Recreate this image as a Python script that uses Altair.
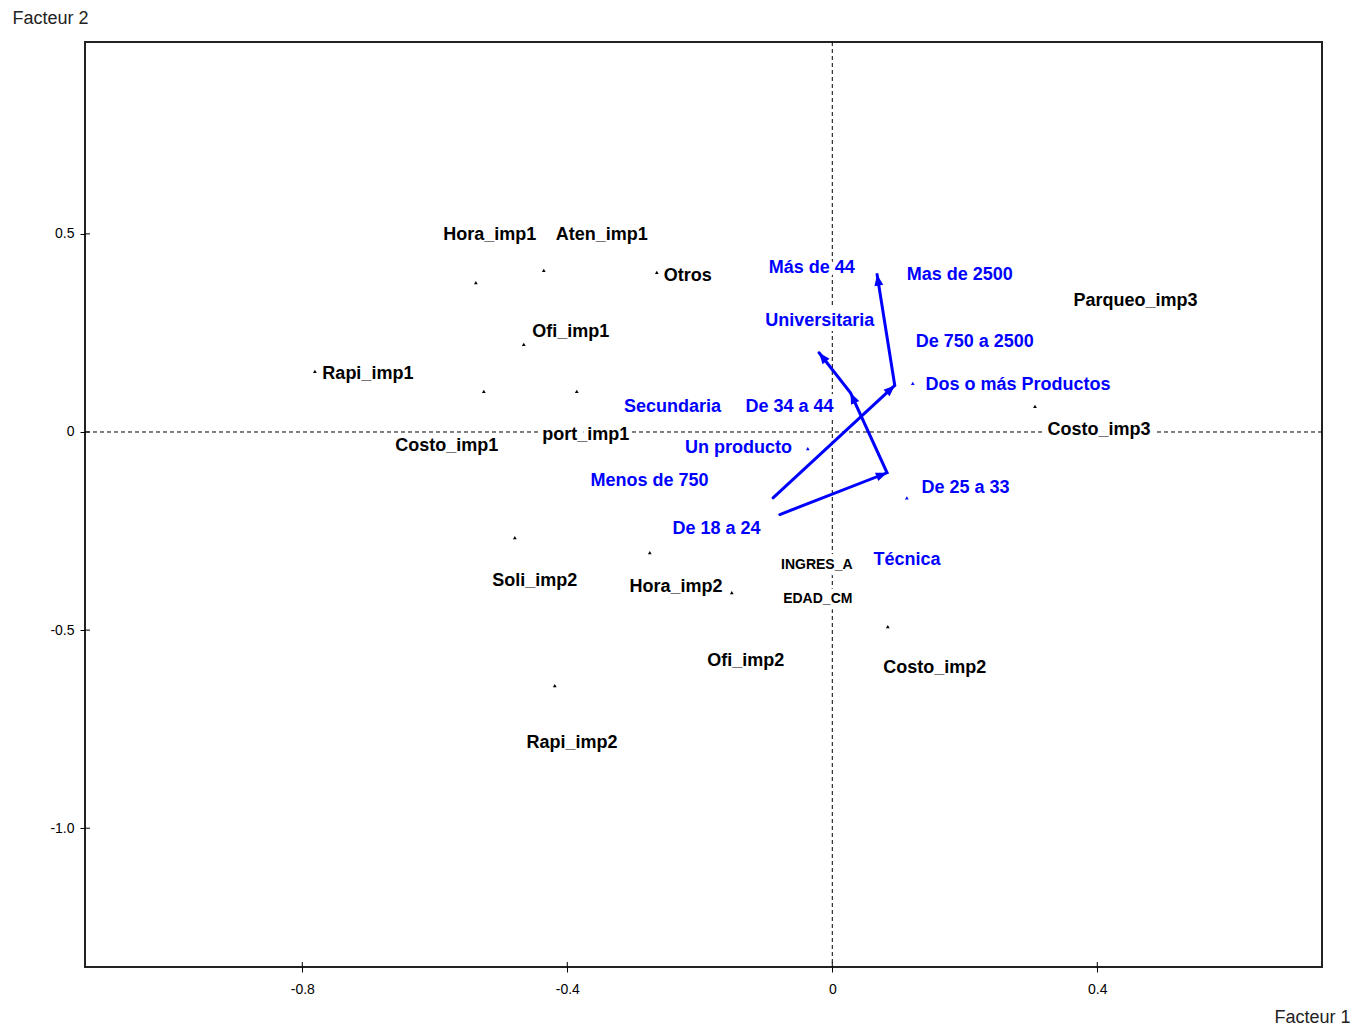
import math
import altair as alt
import pandas as pd

# ---------------- data ----------------
# small triangular markers (black = modalities of the active variables)
black_pt_x = [-0.538, -0.4355, -0.2649, -0.4657, -0.781, -0.526, -0.3857, 0.306, -0.4792, -0.2755, -0.1517, 0.0838, -0.4189]
black_pt_y = [0.377, 0.408, 0.403, 0.221, 0.1528, 0.1023, 0.1023, 0.0644, -0.2664, -0.3043, -0.4053, -0.4912, -0.6402]

# blue markers (supplementary modalities)
blue_pt_x = [0.1215, -0.037, 0.1125]
blue_pt_y = [0.1225, -0.042, -0.166]

# black labels
black_names = ["Hora_imp1", "Aten_imp1", "Otros", "Ofi_imp1", "Rapi_imp1", "Costo_imp1",
               "port_imp1", "Parqueo_imp3", "Costo_imp3", "Soli_imp2", "Hora_imp2",
               "Ofi_imp2", "Costo_imp2", "Rapi_imp2"]
black_lab_x = [-0.517, -0.348, -0.218, -0.3947, -0.701, -0.582, -0.372, 0.4578, 0.4025,
               -0.449, -0.236, -0.1306, 0.1547, -0.393]
black_lab_y = [0.4975, 0.4975, 0.394, 0.2513, 0.1452, -0.0366, -0.0068, 0.3296, 0.006,
               -0.3755, -0.3907, -0.5775, -0.5952, -0.7846]

# trajectory variable names (small labels)
traj_names = ["INGRES_A", "EDAD_CM"]
traj_lab_x = [-0.0234, -0.0219]
traj_lab_y = [-0.3346, -0.4205]

# blue labels
blue_names = ["Más de 44", "Mas de 2500", "Universitaria", "De 750 a 2500", "Dos o más Productos",
              "Secundaria", "De 34 a 44", "Un producto", "Menos de 750", "De 25 a 33",
              "De 18 a 24", "Técnica"]
blue_lab_x = [-0.0309, 0.1925, -0.0189, 0.2151, 0.2803, -0.2412, -0.0646, -0.1416, -0.2759,
              0.2012, -0.1748, 0.1127]
blue_lab_y = [0.4129, 0.3952, 0.279, 0.226, 0.1174, 0.0639, 0.0639, -0.0396, -0.123,
              -0.1407, -0.2442, -0.3225]

# trajectories of the ordinal variables
ingres_steps = ["Menos de 750", "De 750 a 2500", "Mas de 2500"]
ingres_x = [-0.0894, 0.0943, 0.0676]
ingres_y = [-0.1662, 0.1174, 0.3977]
edad_steps = ["De 18 a 24", "De 25 a 33", "De 34 a 44", "Más de 44"]
edad_x = [-0.0792, 0.0827, 0.0275, -0.0199]
edad_y = [-0.2083, -0.103, 0.099, 0.2]

x_ticks = [-0.8, -0.4, 0.0, 0.4]
y_ticks = [-1.0, -0.5, 0.0, 0.5]

# ---------------- layout / style ----------------
W, H = 1237, 925
X_DOM = [-1.128, 0.7392]
Y_DOM = [-1.3503, 0.9843]
FONT = "Liberation Sans"
BLUE = "#0000FF"
SX = W / (X_DOM[1] - X_DOM[0])
SY = H / (Y_DOM[1] - Y_DOM[0])

xs = alt.Scale(domain=X_DOM, nice=False, zero=False)
ys = alt.Scale(domain=Y_DOM, nice=False, zero=False)
lab_expr = "datum.value == 0 ? '0' : replace(format(datum.value, '.1f'), '\u2212', '-')"
xaxis = alt.Axis(values=x_ticks, labelExpr=lab_expr, tickSize=5, tickColor="black", tickWidth=1,
                 domain=False, grid=False, labelFont=FONT, labelFontSize=14, labelColor="black",
                 labelPadding=10, labelBaseline="top",
                 title="Facteur 1", titleFont=FONT, titleFontSize=18, titleFontWeight="normal",
                 titleColor="#222", titleAlign="right", titleBaseline="middle",
                 titleX=1265, titleY=50, titleAnchor="end")
yaxis = alt.Axis(values=y_ticks, labelExpr=lab_expr, tickSize=5, tickColor="black", tickWidth=1,
                 domain=False, grid=False, labelFont=FONT, labelFontSize=14, labelColor="black",
                 labelPadding=6,
                 title="Facteur 2", titleFont=FONT, titleFontSize=18, titleFontWeight="normal",
                 titleColor="#222", titleAngle=0, titleAlign="left", titleBaseline="middle",
                 titleX=-73, titleY=-24, titleAnchor="start")


def X(field):
    return alt.X(field, type="quantitative", scale=xs, axis=xaxis)


def Y(field):
    return alt.Y(field, type="quantitative", scale=ys, axis=yaxis)


# ---------------- tables ----------------
black_pts = pd.DataFrame({"x": black_pt_x, "y": black_pt_y})
blue_pts = pd.DataFrame({"x": blue_pt_x, "y": blue_pt_y})
labels = pd.concat([
    pd.DataFrame({"name": black_names, "x": black_lab_x, "y": black_lab_y, "grp": "black"}),
    pd.DataFrame({"name": blue_names, "x": blue_lab_x, "y": blue_lab_y, "grp": "blue"}),
], ignore_index=True)
traj_labels = pd.DataFrame({"name": traj_names, "x": traj_lab_x, "y": traj_lab_y})

rows = []
heads = []
for var, steps, tx, ty in [("INGRES_A", ingres_steps, ingres_x, ingres_y),
                           ("EDAD_CM", edad_steps, edad_x, edad_y)]:
    for i, (s, a, b) in enumerate(zip(steps, tx, ty)):
        rows.append({"var": var, "step": i, "x": a, "y": b})
        if i > 0:
            dxs = (a - tx[i - 1]) * SX
            dys = (b - ty[i - 1]) * SY
            ang = math.degrees(math.atan2(dxs, dys)) % 360
            heads.append({"x": a, "y": b, "angle": ang})
traj = pd.DataFrame(rows)
heads = pd.DataFrame(heads)
zero = pd.DataFrame({"v": [0.0]})
xt = pd.DataFrame({"v": x_ticks})
yt = pd.DataFrame({"v": y_ticks})

# ---------------- layers ----------------
vline = alt.Chart(zero).mark_rule(color="black", strokeWidth=1, strokeDash=[4, 3]).encode(x=X("v"))
hline = alt.Chart(zero).mark_rule(color="black", strokeWidth=1, strokeDash=[4, 3]).encode(y=Y("v"))

inner_y_ticks = alt.Chart(yt).mark_rule(color="black", strokeWidth=1).encode(
    y=Y("v"), x=alt.value(0), x2=alt.value(5))
inner_x_ticks = alt.Chart(xt).mark_rule(color="black", strokeWidth=1).encode(
    x=X("v"), y=alt.value(H - 5), y2=alt.value(H))

halo = alt.Chart(labels).mark_text(font=FONT, fontSize=18, fontWeight="bold", stroke="white",
                                   strokeWidth=10, strokeJoin="round", fill="white",
                                   align="center", baseline="middle").encode(
    x=X("x"), y=Y("y"), text="name:N")
halo2 = alt.Chart(traj_labels).mark_text(font=FONT, fontSize=14, fontWeight="bold", stroke="white",
                                         strokeWidth=10, strokeJoin="round", fill="white",
                                         align="center", baseline="middle").encode(
    x=X("x"), y=Y("y"), text="name:N")

lines = alt.Chart(traj).mark_line(color=BLUE, strokeWidth=3, strokeCap="round").encode(
    x=X("x"), y=Y("y"), detail="var:N", order="step:Q")
arrow_heads = alt.Chart(heads).mark_point(
    shape="M0,0L-0.4,1L0.4,1Z", filled=True, color=BLUE, opacity=1, size=500).encode(
    x=X("x"), y=Y("y"), angle=alt.Angle("angle:Q", scale=None))

bpts = alt.Chart(black_pts).mark_point(shape="triangle-up", filled=True, color="black",
                                       opacity=1, size=14).encode(x=X("x"), y=Y("y"))
upts = alt.Chart(blue_pts).mark_point(shape="triangle-up", filled=True, color=BLUE,
                                      opacity=1, size=14).encode(x=X("x"), y=Y("y"))

texts = alt.Chart(labels).mark_text(font=FONT, fontSize=18, fontWeight="bold",
                                    align="center", baseline="middle").encode(
    x=X("x"), y=Y("y"), text="name:N",
    color=alt.Color("grp:N", scale=alt.Scale(domain=["black", "blue"], range=["black", BLUE]),
                    legend=None))
traj_texts = alt.Chart(traj_labels).mark_text(font=FONT, fontSize=14, fontWeight="bold",
                                              color="black", align="center",
                                              baseline="middle").encode(
    x=X("x"), y=Y("y"), text="name:N")

chart = alt.layer(
    vline, hline, halo, halo2, inner_y_ticks, inner_x_ticks, lines, arrow_heads,
    bpts, upts, texts, traj_texts
).properties(
    width=W, height=H,
    autosize=alt.AutoSizeParams(type="none"),
    padding={"left": 77, "top": 34, "right": 40, "bottom": 70},
    background="white",
).configure_view(stroke="#222", strokeWidth=2)

chart.save("out.html", embed_options={"renderer": "svg", "actions": False})
